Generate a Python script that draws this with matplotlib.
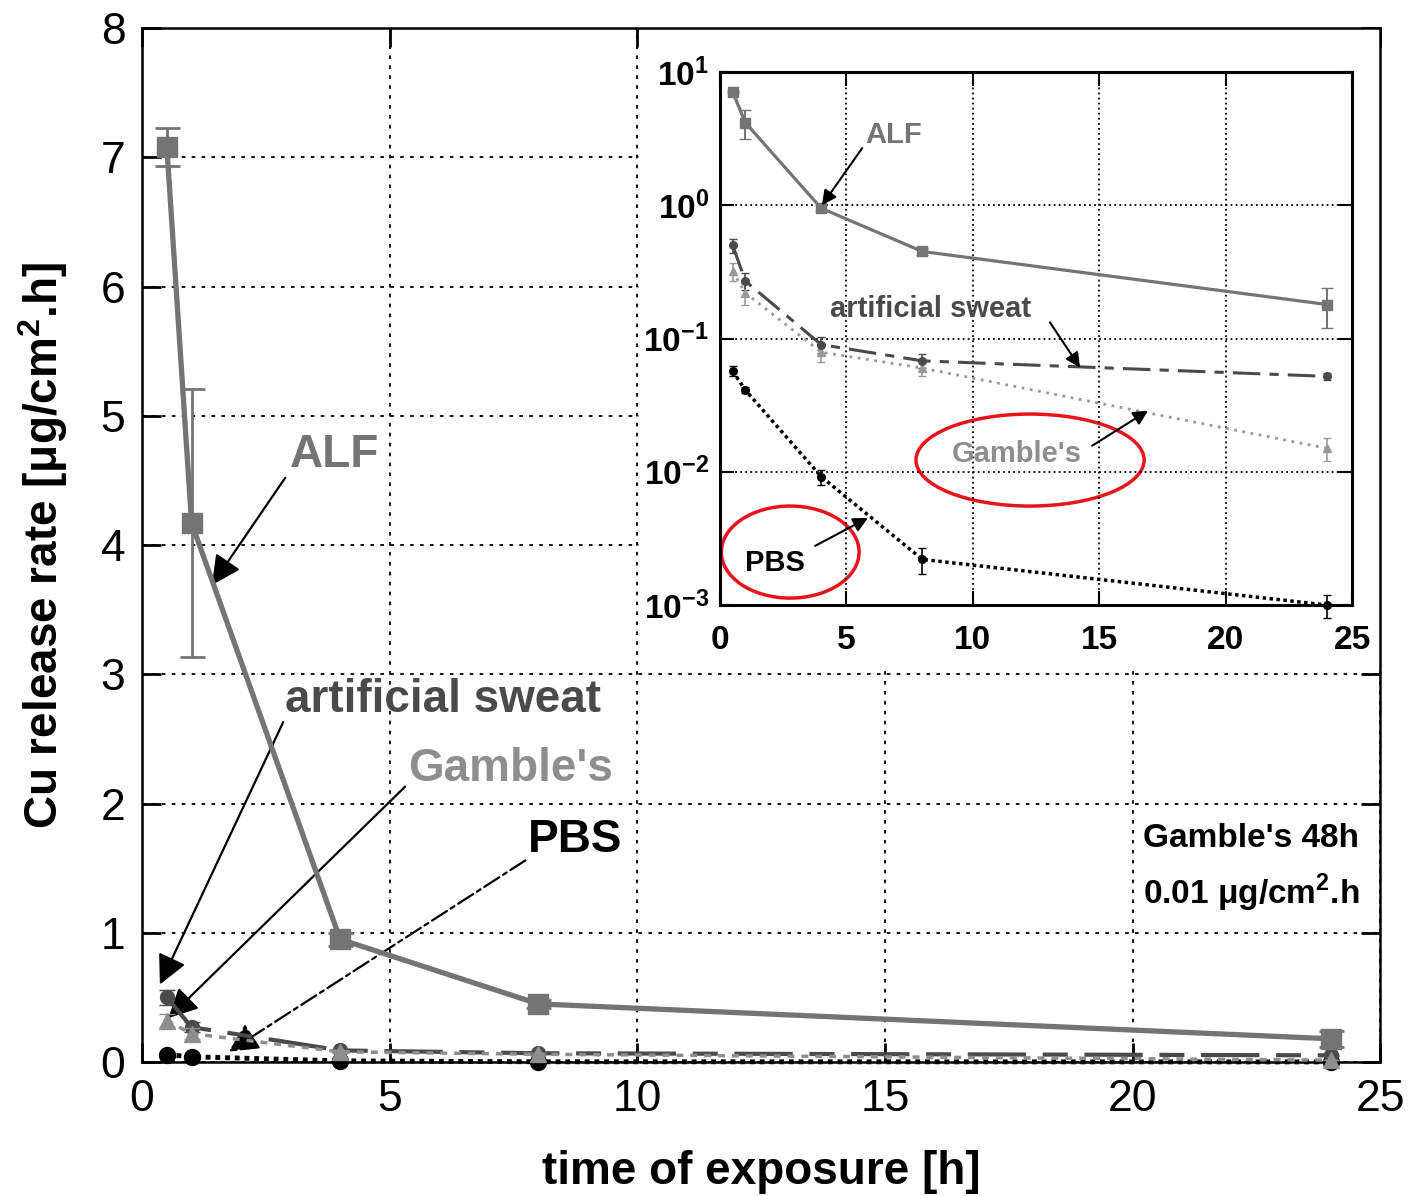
import matplotlib
matplotlib.use('Agg')
import matplotlib.pyplot as plt
from matplotlib.patches import Ellipse, Rectangle

plt.rcParams['font.family'] = ['Liberation Sans', 'DejaVu Sans']
plt.rcParams['mathtext.fontset'] = 'custom'
plt.rcParams['mathtext.rm'] = 'Liberation Sans'
plt.rcParams['mathtext.bf'] = 'Liberation Sans:bold'

# tiempos de exposición [h]
tiempo = [0.5, 1, 4, 8, 24]

# tasa de liberación de Cu [ug/cm2.h] y desviaciones
alf = [7.08, 4.17, 0.95, 0.45, 0.18]
alf_err = [0.15, 1.04, 0.05, 0.03, 0.06]
sudor = [0.50, 0.27, 0.090, 0.068, 0.052]
sudor_err = [0.06, 0.04, 0.012, 0.008, 0.003]
gamble = [0.32, 0.22, 0.079, 0.060, 0.015]
gamble_err = [0.05, 0.04, 0.012, 0.008, 0.003]
pbs = [0.057, 0.041, 0.0092, 0.0022, 0.0010]
pbs_err = [0.005, 0.002, 0.0012, 0.0005, 0.0002]

ticks_x = [0, 5, 10, 15, 20, 25]
ticks_y = [0, 1, 2, 3, 4, 5, 6, 7, 8]
ticks_log = [1e-3, 1e-2, 1e-1, 1e0, 1e1]
etiquetas_log = [r'$\mathbf{10^{-3}}$', r'$\mathbf{10^{-2}}$', r'$\mathbf{10^{-1}}$',
                 r'$\mathbf{10^{0}}$', r'$\mathbf{10^{1}}$']

c_alf = '#747474'
c_sudor = '#4a4a4a'
c_gamble = '#8e8e8e'
c_pbs = '#000000'

fig = plt.figure(figsize=(14.08, 11.96), dpi=100)
ax = fig.add_axes([0.1009, 0.1120, 0.8793, 0.8646])

# ---- gráfico principal (escala lineal)
ax.errorbar(tiempo, pbs, yerr=pbs_err, color=c_pbs, lw=3.5, dashes=(1, 1),
            marker='o', ms=11.5, capsize=6, elinewidth=1.5, zorder=3, clip_on=False)
ax.errorbar(tiempo, gamble, yerr=gamble_err, color=c_gamble, lw=2.5, dashes=(2, 2),
            marker='^', ms=12, capsize=6, elinewidth=1.5, zorder=4, clip_on=False)
ax.errorbar(tiempo, sudor, yerr=sudor_err, color=c_sudor, lw=3, dashes=(14, 4, 6, 4),
            marker='o', ms=10, capsize=6, elinewidth=1.5, zorder=3.5, clip_on=False)
ax.errorbar(tiempo, alf, yerr=alf_err, color=c_alf, lw=3.8, marker='s', ms=15,
            capsize=9, elinewidth=2, capthick=2, zorder=5, clip_on=False)

ax.set_xlim(0, 25)
ax.set_ylim(0, 8)
ax.set_xticks(ticks_x)
ax.set_yticks(ticks_y)
ax.tick_params(direction='in', length=14, width=2, labelsize=32, pad=12,
               top=True, right=True)
for s in ax.spines.values():
    s.set_linewidth(1.8)
ax.set_axisbelow(True)
ax.grid(True, color='black', lw=1.3, linestyle=(0, (2, 3.5)))

ax.set_xlabel('time of exposure [h]', fontsize=33, fontweight='bold', labelpad=22)
ax.set_ylabel(r'Cu release rate [μg/cm$^{\mathbf{2}}$.h]', fontsize=33,
              fontweight='bold', labelpad=22)

# zona blanca detrás del recuadro
ax.add_patch(Rectangle((10.04, 3.07), 15, 5, facecolor='white', edgecolor='none', zorder=1))

flecha = dict(arrowstyle='-|>', color='black', lw=1.6, mutation_scale=45,
              shrinkA=0, shrinkB=0)
ax.text(2.99, 4.70, 'ALF', color=c_alf, fontsize=33, fontweight='bold', va='center')
ax.annotate('', xy=(1.41, 3.69), xytext=(2.89, 4.52), arrowprops=flecha)
ax.text(2.89, 2.80, 'artificial sweat', color=c_sudor, fontsize=33, fontweight='bold', va='center')
ax.annotate('', xy=(0.36, 0.60), xytext=(2.85, 2.63), arrowprops=flecha)
ax.text(5.37, 2.27, "Gamble's", color=c_gamble, fontsize=33, fontweight='bold', va='center')
ax.annotate('', xy=(0.53, 0.34), xytext=(5.31, 2.13), arrowprops=flecha)
ax.text(7.80, 1.72, 'PBS', color=c_pbs, fontsize=33, fontweight='bold', va='center')
ax.annotate('', xy=(1.75, 0.08), xytext=(7.74, 1.56),
            arrowprops=dict(flecha, linestyle=(0, (8, 2, 2, 2))))

ax.text(20.22, 1.73, "Gamble's 48h", fontsize=24, fontweight='bold', va='center')
ax.text(20.22, 1.31, r'0.01 μg/cm$^{\mathbf{2}}$.h', fontsize=24, fontweight='bold', va='center')

# ---- recuadro con escala logarítmica
axi = fig.add_axes([0.5114, 0.4941, 0.4489, 0.4457])
axi.set_yscale('log')
axi.errorbar(tiempo, pbs, yerr=pbs_err, color=c_pbs, lw=2.5, dashes=(1, 1),
             marker='o', ms=5.5, capsize=3, elinewidth=1.2, clip_on=False)
axi.errorbar(tiempo, gamble, yerr=gamble_err, color='#999999', lw=2, dashes=(1, 2),
             marker='^', ms=5.5, capsize=3, elinewidth=1.2, clip_on=False)
axi.errorbar(tiempo, sudor, yerr=sudor_err, color=c_sudor, lw=2.2, dashes=(9, 3, 3, 3),
             marker='o', ms=5.5, capsize=3, elinewidth=1.2, clip_on=False)
axi.errorbar(tiempo, alf, yerr=alf_err, color=c_alf, lw=2.3, marker='s', ms=7,
             capsize=4, elinewidth=1.5, clip_on=False)

axi.set_xlim(0, 25)
axi.set_ylim(1e-3, 1e1)
axi.set_xticks(ticks_x)
axi.set_yticks(ticks_log)
axi.set_yticklabels(etiquetas_log)
axi.minorticks_off()
axi.tick_params(direction='in', length=10, width=1.5, top=True, right=True)
axi.tick_params(axis='x', labelsize=24, pad=14)
axi.tick_params(axis='y', labelsize=24, pad=8)
for lab in axi.get_xticklabels():
    lab.set_fontweight('bold')
for s in axi.spines.values():
    s.set_linewidth(2.2)
axi.grid(True, which='major', color='black', lw=1.3, linestyle=(0, (1, 1.8)))

flecha_in = dict(arrowstyle='-|>', color='black', lw=1.5, mutation_scale=22,
                 shrinkA=0, shrinkB=0)
axi.text(5.74, 3.36, 'ALF', color=c_alf, fontsize=21, fontweight='bold', va='center')
axi.annotate('', xy=(4.03, 1.0), xytext=(5.62, 2.68), arrowprops=flecha_in)
axi.text(4.35, 0.168, 'artificial sweat', color=c_sudor, fontsize=21,
         fontweight='bold', va='center')
axi.annotate('', xy=(14.24, 0.0605), xytext=(13.05, 0.132), arrowprops=flecha_in)
axi.text(9.18, 0.01365, "Gamble's", color=c_gamble, fontsize=21, fontweight='bold', va='center')
axi.annotate('', xy=(16.93, 0.0288), xytext=(14.72, 0.0157), arrowprops=flecha_in)
axi.text(0.99, 0.00207, 'PBS', color=c_pbs, fontsize=21, fontweight='bold', va='center')
axi.annotate('', xy=(5.85, 0.00451), xytext=(3.76, 0.00278), arrowprops=flecha_in)

# círculos rojos
axi.add_patch(Ellipse((0.4905, 0.272), 0.361, 0.1726, transform=axi.transAxes,
                      fill=False, edgecolor='#e8141c', lw=2.5, clip_on=False))
axi.add_patch(Ellipse((0.111, 0.0994), 0.218, 0.1726, transform=axi.transAxes,
                      fill=False, edgecolor='#e8141c', lw=2.5, clip_on=False))

fig.savefig('out.png', dpi=100)
